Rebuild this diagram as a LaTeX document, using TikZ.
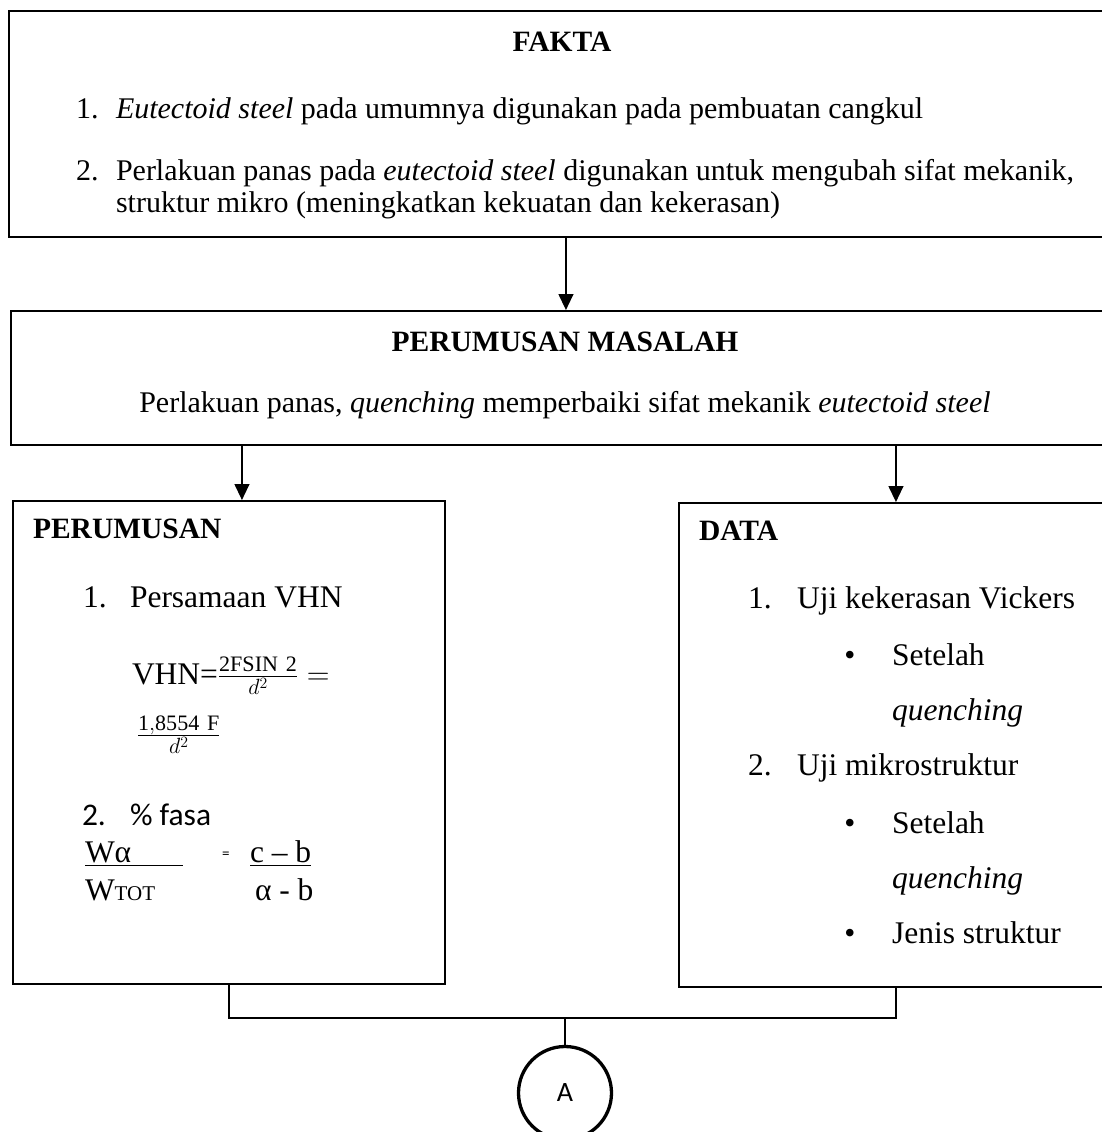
\RequirePackage{fix-cm}
\documentclass[tikz,border=0pt]{standalone}
\usepackage{fontspec}
\setmainfont{Liberation Serif}
\newfontfamily\calib{Carlito}
\usetikzlibrary{arrows.meta}
\newcommand\fB{\fontsize{31.5}{38}\selectfont}
\newcommand\fT{\fontsize{30}{36}\selectfont}
\newcommand\fH{\fontsize{29.5}{35}\selectfont\bfseries}
\begin{document}
\begin{tikzpicture}[x=1pt,y=-1pt,
  box/.style={draw, line width=1.9pt, rectangle, inner sep=0pt, anchor=north west},
  lbl/.style={anchor=base west, inner sep=0pt, outer sep=0pt},
  arr/.style={line width=1.3pt, -{Triangle[length=16pt,width=15pt]}},
  conn/.style={line width=1.3pt},
  ul/.style={line width=1.4pt}]
\useasboundingbox (0,0) rectangle (1102,1132);
\clip (0,0) rectangle (1102,1132);
\fill[white] (0,0) rectangle (1102,1132);
% boxes
\node[box, minimum width=1114pt, minimum height=226pt] (fakta) at (8,10) {};
\node[box, minimum width=1110pt, minimum height=134pt] (pm) at (10,310) {};
\node[box, minimum width=432pt, minimum height=483pt] (perum) at (12,500) {};
\node[box, minimum width=434pt, minimum height=484pt] (data) at (678,502) {};
\node[draw, circle, line width=3.3pt, minimum size=93pt, inner sep=0pt, font=\calib\fontsize{28}{28}\selectfont] (circA) at (565,1093) {A};
% arrows
\draw[arr] (fakta.south) -- (pm.north);
\coordinate (tL) at ([xshift=13pt]perum.north);
\draw[arr] (tL |- pm.south) -- (tL);
\draw[arr] (data.north |- pm.south) -- (data.north);
\coordinate (j) at (565,1018);
\draw[conn] (perum.south) |- (j) -| (data.south);
\draw[conn] (j) -- (circA.north);
% FAKTA
\node[lbl, anchor=base, font=\fH] (tF) at (562,52) {FAKTA};
\node[lbl, font=\fT] (f1n) at (76,118) {1.};
\node[lbl, font=\fT] (f1) at (116,118) {\textit{Eutectoid steel} pada umumnya digunakan pada pembuatan cangkul};
\node[lbl, font=\fT] (f2n) at (76,180) {2.};
\node[lbl, font=\fT] (f2) at (116,180) {Perlakuan panas pada \textit{eutectoid steel} digunakan untuk mengubah sifat mekanik,};
\node[lbl, font=\fT] (f2b) at (116,212) {struktur mikro (meningkatkan kekuatan dan kekerasan)};
% PERUMUSAN MASALAH
\node[lbl, anchor=base, font=\fH] (tPM) at (565,351) {PERUMUSAN MASALAH};
\node[lbl, anchor=base, font=\fT] (pmt) at (565,412) {Perlakuan panas, \textit{quenching} memperbaiki sifat mekanik \textit{eutectoid steel}};
% PERUMUSAN
\node[lbl, font=\fH] (tP) at (33,538) {PERUMUSAN};
\node[lbl, font=\fB] (p1n) at (83,607) {1.};
\node[lbl, font=\fB] (p1) at (130,607) {Persamaan VHN};
\node[lbl, font=\fB] (vhn) at (132,684) {VHN=$\frac{\mathrm{2FSIN\ 2}}{d^{2}}=$};
\node[lbl, font=\fB] (vhn2) at (137,743) {$\frac{\mathrm{1{,}8554\ F}}{d^{2}}$};
\node[lbl, font=\calib\fB] (p2n) at (82,825) {2.};
\node[lbl, font=\calib\fB] (p2) at (130,825) {\% fasa};
\node[lbl, font=\fB] (wa) at (85,862) {Wα};
\draw[ul] ([yshift=-3pt]wa.south west) -- ++(98,0);
\node[lbl, font=\calib\fontsize{15}{15}\selectfont] (eq) at (222,858) {=};
\node[lbl, font=\fB] (cb) at (250,862) {c – b};
\draw[ul] ([yshift=-3pt]cb.south west) -- ([yshift=-3pt]cb.south east);
\node[lbl, font=\fB] (wt) at (85,900) {W{\fontsize{21}{21}\selectfont TOT}};
\node[lbl, font=\fB] (ab) at (255,900) {α - b};
% DATA
\node[lbl, font=\fH] (tD) at (699,540) {DATA};
\node[lbl, font=\fB] (d1n) at (748,608) {1.};
\node[lbl, font=\fB] (d1) at (797,608) {Uji kekerasan Vickers};
\node[lbl, anchor=base, font=\fB] (b1) at (850,665) {•};
\node[lbl, font=\fB] (s1) at (892,665) {Setelah};
\node[lbl, font=\fB] (q1) at (892,720) {\textit{quenching}};
\node[lbl, font=\fB] (d2n) at (748,775) {2.};
\node[lbl, font=\fB] (d2) at (797,775) {Uji mikrostruktur};
\node[lbl, anchor=base, font=\fB] (b2) at (850,833) {•};
\node[lbl, font=\fB] (s2) at (892,833) {Setelah};
\node[lbl, font=\fB] (q2) at (892,888) {\textit{quenching}};
\node[lbl, anchor=base, font=\fB] (b3) at (850,943) {•};
\node[lbl, font=\fB] (s3) at (892,943) {Jenis struktur};
\end{tikzpicture}
\end{document}
